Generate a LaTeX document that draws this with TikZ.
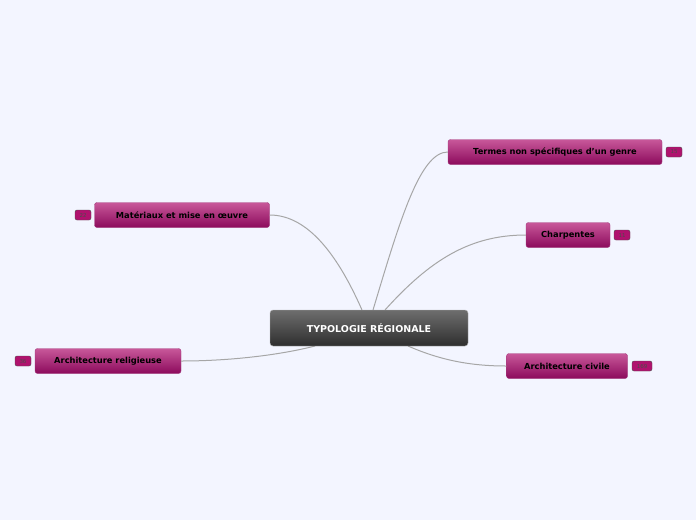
\documentclass[tikz,border=0pt]{standalone}
\usepackage{fontspec}
\setmainfont{DejaVu Sans}
\begin{document}
\begin{tikzpicture}[x=1pt,y=-1pt,
  topic/.style={rounded corners=2.5pt, top color=topA, bottom color=topB, draw=topB!80!white, minimum height=25pt, inner xsep=8pt, font=\fontsize{8.3}{10}\selectfont\bfseries, text=black},
  central/.style={rounded corners=3pt, top color=cenA, bottom color=cenB, draw=gray!60, minimum height=36pt, minimum width=198pt, font=\fontsize{9.5}{11}\selectfont\bfseries, text=white},
  badge/.style={rounded corners=2pt, fill=badgeC, draw=black!70, minimum height=10pt, minimum width=16pt, inner sep=1pt, font=\fontsize{5.5}{6}\selectfont, text=black!70},
  link/.style={draw=gray!70, line width=1pt}]
\definecolor{topA}{HTML}{C8589A}
\definecolor{topB}{HTML}{8C0A5C}
\definecolor{cenA}{HTML}{6E6E6E}
\definecolor{cenB}{HTML}{2E2E2E}
\definecolor{badgeC}{HTML}{B0126E}
\definecolor{bgC}{HTML}{F3F5FF}
\fill[bgC] (0,0) rectangle (696,520);
\useasboundingbox (0,0) rectangle (696,520);
\coordinate (c1) at (362,310);
\coordinate (c2) at (373,310);
\coordinate (c3) at (385,310);
\coordinate (c4) at (408,346);
\coordinate (c5) at (315,346);
\node[topic, minimum width=214pt] (t) at (555,152) {Termes non spécifiques d’un genre};
\node[badge] (tb) at (674,152) {15};
\node[topic, minimum width=84pt] (ch) at (568,235) {Charpentes};
\node[badge] (chb) at (622,235) {11};
\node[topic, minimum width=121pt] (ac) at (567,366) {Architecture civile};
\node[badge, minimum width=20pt] (acb) at (642,366) {169};
\node[topic, minimum width=175pt] (m) at (182,215) {Matériaux et mise en œuvre};
\node[badge] (mb) at (83,215) {22};
\node[topic, minimum width=146pt] (r) at (108,361) {Architecture religieuse};
\node[badge] (rb) at (23,361) {36};
\draw[link] (c1) .. controls (340,260) and (310,215) .. (m.east);
\draw[link] (c2) .. controls (400,220) and (420,152) .. (t.west);
\draw[link] (c3) .. controls (430,260) and (470,235) .. (ch.west);
\draw[link] (c4) .. controls (440,360) and (470,366) .. (ac.west);
\draw[link] (c5) .. controls (280,355) and (230,361) .. (r.east);
\node[central] (c) at (369,328) {TYPOLOGIE RÉGIONALE};
\end{tikzpicture}
\end{document}
